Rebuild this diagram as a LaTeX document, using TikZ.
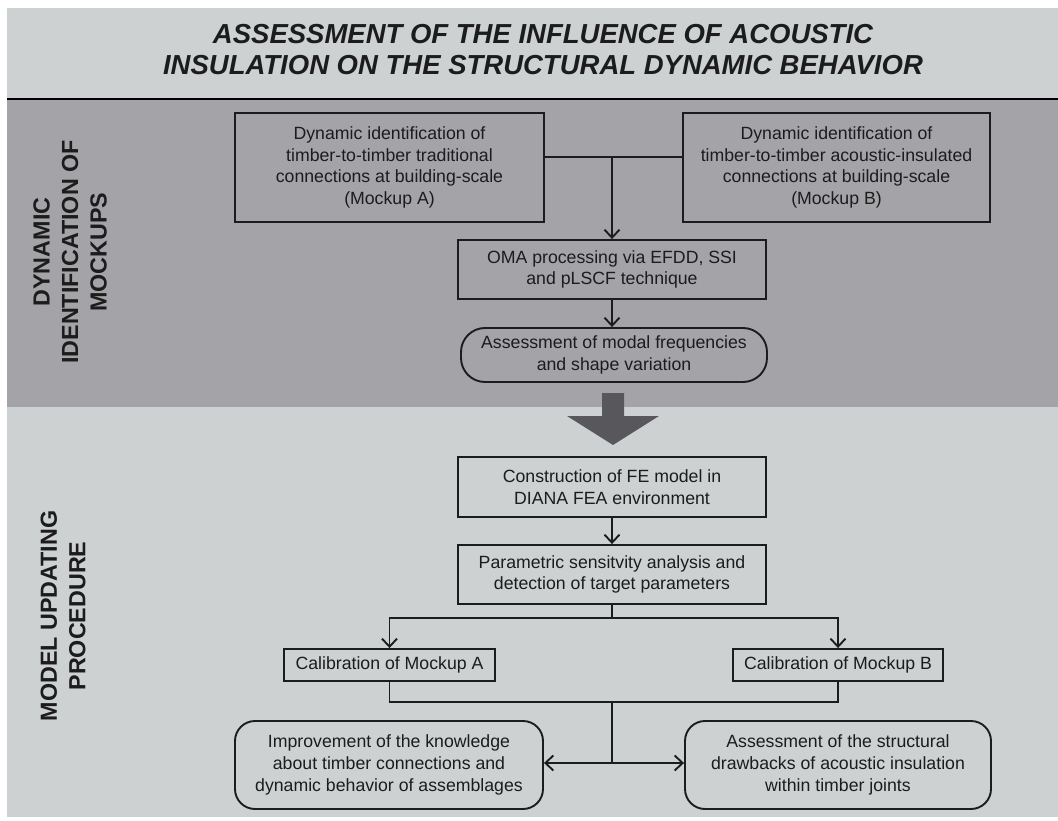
\documentclass[tikz,border=0pt]{standalone}
\usepackage{fontspec}
\setmainfont{Liberation Sans}
\usetikzlibrary{arrows.meta}
\definecolor{bandlight}{RGB}{206,209,210}
\definecolor{banddark}{RGB}{164,164,168}
\definecolor{bigarrow}{RGB}{88,88,92}
\definecolor{ink}{RGB}{28,28,28}
\begin{document}
\begin{tikzpicture}[x=1pt,y=-1pt,
  box/.style={draw=ink, line width=1.9pt, inner sep=0pt, align=center, text=ink,
    font=\fontsize{17.7}{21.8}\selectfont},
  roundbox/.style={box, rounded corners=20pt},
  conn/.style={draw=ink, line width=1.9pt},
  arr/.style={conn, -{Straight Barb[length=8pt,width=15pt]}},
  sidelabel/.style={rotate=90, align=center, text=ink, inner sep=0pt,
    font=\fontsize{23.3}{28.5}\selectfont\bfseries},
  titletext/.style={anchor=base, text=ink, inner sep=0pt,
    font=\fontsize{27.5}{31}\selectfont\bfseries\itshape}]
\useasboundingbox (0,0) rectangle (1058,821);
\fill[white] (0,0) rectangle (1058,821);
\fill[bandlight] (7,8) rectangle (1058,99);
\fill[banddark] (7,99) rectangle (1058,407);
\fill[bandlight] (7,407) rectangle (1058,817);
\draw[black, line width=2pt] (7,99) -- (1058,99);

% title
\node[titletext] (title1) at (543,43.5) {ASSESSMENT OF THE INFLUENCE OF ACOUSTIC};
\node[titletext] (title2) at (543,75) {INSULATION ON THE STRUCTURAL DYNAMIC BEHAVIOR};

% side labels
\node[sidelabel] (lab1) at (70,252) {DYNAMIC\\IDENTIFICATION OF\\MOCKUPS};
\node[sidelabel] (lab2) at (63,616) {MODEL UPDATING\\PROCEDURE};

% upper part
\node[box, minimum width=309pt, minimum height=109pt] (mA) at (389.5,167.5)
  {Dynamic identification of\\timber-to-timber traditional\\connections at building-scale\\(Mockup A)};
\node[box, minimum width=307pt, minimum height=109pt] (mB) at (836.5,167.5)
  {Dynamic identification of\\timber-to-timber acoustic-insulated\\connections at building-scale\\(Mockup B)};
\node[box, minimum width=308pt, minimum height=59pt] (oma) at (612,269.5)
  {OMA processing via EFDD, SSI\\and pLSCF technique};
\node[box, rounded corners=24pt, minimum width=306pt, minimum height=54pt] (modal) at (614,355)
  {Assessment of modal frequencies\\and shape variation};

\coordinate (topjoin) at (612,157);
\draw[conn] (mA.east |- topjoin) -- (mB.west |- topjoin);
\draw[arr] (topjoin) -- (oma.north);
\draw[arr] (oma.south) -- (oma.south |- modal.north);

% big arrow
\fill[bigarrow] (602,393) -- (624,393) -- (624,416) -- (659,416) -- (613,445)
  -- (567,416) -- (602,416) -- cycle;

% lower part
\node[box, minimum width=308pt, minimum height=60pt] (fe) at (612,487)
  {Construction of FE model in\\DIANA FEA environment};
\node[box, minimum width=308pt, minimum height=59pt] (param) at (612,574.5)
  {Parametric sensitvity analysis and\\detection of target parameters};
\node[box, minimum width=211pt, minimum height=32pt] (calA) at (389.5,665)
  {Calibration of Mockup A};
\node[box, minimum width=210pt, minimum height=32pt] (calB) at (838,665)
  {Calibration of Mockup B};
\node[roundbox, minimum width=308pt, minimum height=88pt] (impr) at (389,765)
  {Improvement of the knowledge\\about timber connections and\\dynamic behavior of assemblages};
\node[roundbox, minimum width=306pt, minimum height=88pt] (drawb) at (838,765)
  {Assessment of the structural\\drawbacks of acoustic insulation\\within timber joints};

\draw[arr] (fe.south) -- (param.north);
\coordinate (split) at (612,618);
\draw[conn] (param.south) -- (split);
\draw[arr] (split) -| (calA.north);
\draw[arr] (split) -| (calB.north);
\coordinate (merge) at (612,702);
\draw[conn] (calA.south) |- (merge) -| (calB.south);
\coordinate (fork) at (612,763);
\draw[conn] (merge) -- (fork);
\draw[arr] (fork) -- (impr.east |- fork);
\draw[arr] (fork) -- (drawb.west |- fork);
\end{tikzpicture}
\end{document}
